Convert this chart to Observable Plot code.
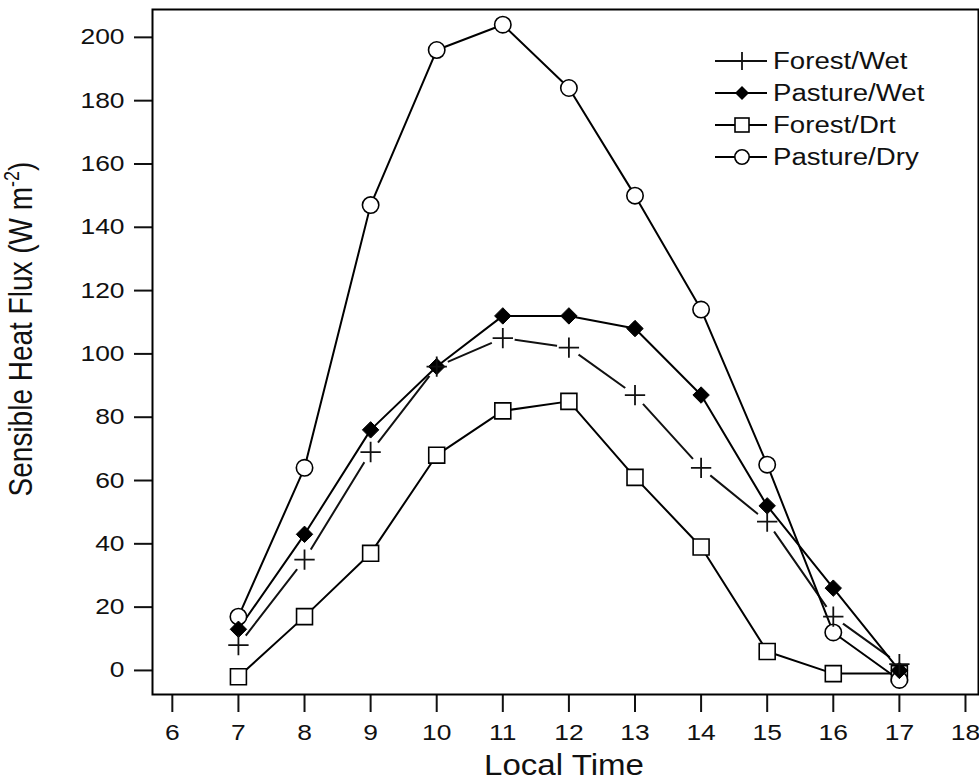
<!DOCTYPE html>
<html>
<head>
<meta charset="utf-8">
<script src="https://cdn.jsdelivr.net/npm/d3@7"></script>
<script src="https://cdn.jsdelivr.net/npm/@observablehq/plot@0.6"></script>
<style>
  html, body { margin: 0; padding: 0; background: #fff; }
  #wrap { width: 979px; height: 784px; }
</style>
</head>
<body>
<div id="wrap"></div>
<script>
const hours = [7, 8, 9, 10, 11, 12, 13, 14, 15, 16, 17];
const forestWet  = [8, 35, 69, 96, 105, 102, 87, 64, 47, 17, 2];
const pastureWet = [13, 43, 76, 96, 112, 112, 108, 87, 52, 26, 0];
const forestDry  = [-2, 17, 37, 68, 82, 85, 61, 39, 6, -1, -1];
const pastureDry = [17, 64, 147, 196, 204, 184, 150, 114, 65, 12, -3];
const seriesNames = ["Forest/Wet", "Pasture/Wet", "Forest/Drt", "Pasture/Dry"];
const xTicks = [6, 7, 8, 9, 10, 11, 12, 13, 14, 15, 16, 17, 18];
const yTicks = [0, 20, 40, 60, 80, 100, 120, 140, 160, 180, 200];

const rows = (vals) => hours.map((h, i) => ({x: h, y: vals[i]}));
const fw = rows(forestWet), pw = rows(pastureWet), fd = rows(forestDry), pd = rows(pastureDry);

const FONT = "'Liberation Sans', Arial, Helvetica, sans-serif";
const lineOpts = {x: "x", y: "y", stroke: "#000", strokeWidth: 2};

const plot = Plot.plot({
  width: 979,
  height: 784,
  marginLeft: 152,
  marginRight: 1,
  marginTop: 9,
  marginBottom: 90,
  style: {fontFamily: FONT, fontSize: "22px", color: "#111", background: "#fff"},
  x: {domain: [5.7, 18.197]},
  y: {domain: [-7.6, 208.8]},
  marks: [
    Plot.axisX({ticks: xTicks, tickSize: 18, tickPadding: 12, strokeWidth: 2, fontSize: 22, label: null, tickFormat: d => String(d)}),
    Plot.axisY({ticks: yTicks, tickSize: 18, tickPadding: 10, strokeWidth: 2, fontSize: 22, label: null, tickFormat: d => String(d)}),
    Plot.line(fw, {...lineOpts, stroke: "#111", strokeWidth: 2}),
    Plot.dot(fw, {x: "x", y: "y", r: 12, fill: "#fff", stroke: null}),
    Plot.line(fd, lineOpts),
    Plot.line(pw, lineOpts),
    Plot.line(pd, lineOpts),
    Plot.dot(fd, {x: "x", y: "y", symbol: "square", r: 9, fill: "#fff", stroke: "#000", strokeWidth: 1.6}),
    Plot.dot(pd, {x: "x", y: "y", symbol: "circle", r: 8.2, fill: "#fff", stroke: "#000", strokeWidth: 1.6}),
    Plot.dot(pw, {x: "x", y: "y", symbol: "diamond2", r: 7.4, fill: "#000", stroke: "#000", strokeWidth: 1}),
    Plot.dot(fw, {x: "x", y: "y", symbol: "plus", r: 6.6, fill: "none", stroke: "#111", strokeWidth: 1.8}),
    Plot.frame({stroke: "#000", strokeWidth: 2})
  ]
});

const wrap = document.getElementById("wrap");
wrap.appendChild(plot);

const svg = d3.select(plot);
const STRETCH = 1.2;
// horizontal stretch of tick labels to match reference glyph widths
svg.selectAll("text").each(function () {
  const len = this.getComputedTextLength();
  if (len > 0) {
    this.setAttribute("textLength", (len * STRETCH).toFixed(2));
    this.setAttribute("lengthAdjust", "spacingAndGlyphs");
  }
});

// y-axis label with superscript
const yl = svg.append("text")
  .attr("transform", "translate(32,329) rotate(-90) scale(1,1.2)")
  .attr("text-anchor", "middle")
  .attr("font-family", FONT)
  .attr("font-size", 28)
  .attr("fill", "#111");
yl.append("tspan").text("Sensible Heat Flux (W m");
yl.append("tspan").attr("font-size", 18).attr("dy", -11).text("-2");
yl.append("tspan").attr("dy", 11).text(")");

// x-axis label
const xl = svg.append("text")
  .attr("x", 564).attr("y", 775)
  .attr("text-anchor", "middle")
  .attr("font-family", FONT)
  .attr("font-size", 29)
  .attr("fill", "#111")
  .text("Local Time");
xl.attr("textLength", (xl.node().getComputedTextLength() * 1.14).toFixed(2)).attr("lengthAdjust", "spacingAndGlyphs");

// legend
const leg = svg.append("g").attr("transform", "translate(715,0)");
const rowY = [61, 93, 125, 157];
const icons = [
  g => { g.append("path").attr("d", "M0,0H52").attr("stroke", "#111").attr("stroke-width", 2);
         g.append("path").attr("d", "M27,-9V9M18,0H36").attr("stroke", "#fff").attr("stroke-width", 5);
         g.append("path").attr("d", "M27,-9V9M18,0H36").attr("stroke", "#111").attr("stroke-width", 1.8); },
  g => { g.append("path").attr("d", "M0,0H52").attr("stroke", "#000").attr("stroke-width", 2);
         g.append("path").attr("d", "M27,-7L34,0L27,7L20,0Z").attr("fill", "#000"); },
  g => { g.append("path").attr("d", "M0,0H52").attr("stroke", "#000").attr("stroke-width", 2);
         g.append("rect").attr("x", 20).attr("y", -7).attr("width", 14).attr("height", 14).attr("fill", "#fff").attr("stroke", "#000").attr("stroke-width", 1.6); },
  g => { g.append("path").attr("d", "M0,0H52").attr("stroke", "#000").attr("stroke-width", 2);
         g.append("circle").attr("cx", 27).attr("cy", 0).attr("r", 7.2).attr("fill", "#fff").attr("stroke", "#000").attr("stroke-width", 1.6); }
];
seriesNames.forEach((name, i) => {
  const g = leg.append("g").attr("transform", `translate(0,${rowY[i]})`);
  icons[i](g);
  const t = g.append("text")
    .attr("x", 58).attr("y", 8)
    .attr("text-anchor", "start")
    .attr("font-family", FONT)
    .attr("font-size", 23)
    .attr("fill", "#111")
    .text(name);
  t.attr("textLength", (t.node().getComputedTextLength() * STRETCH).toFixed(2)).attr("lengthAdjust", "spacingAndGlyphs");
});
</script>
</body>
</html>
